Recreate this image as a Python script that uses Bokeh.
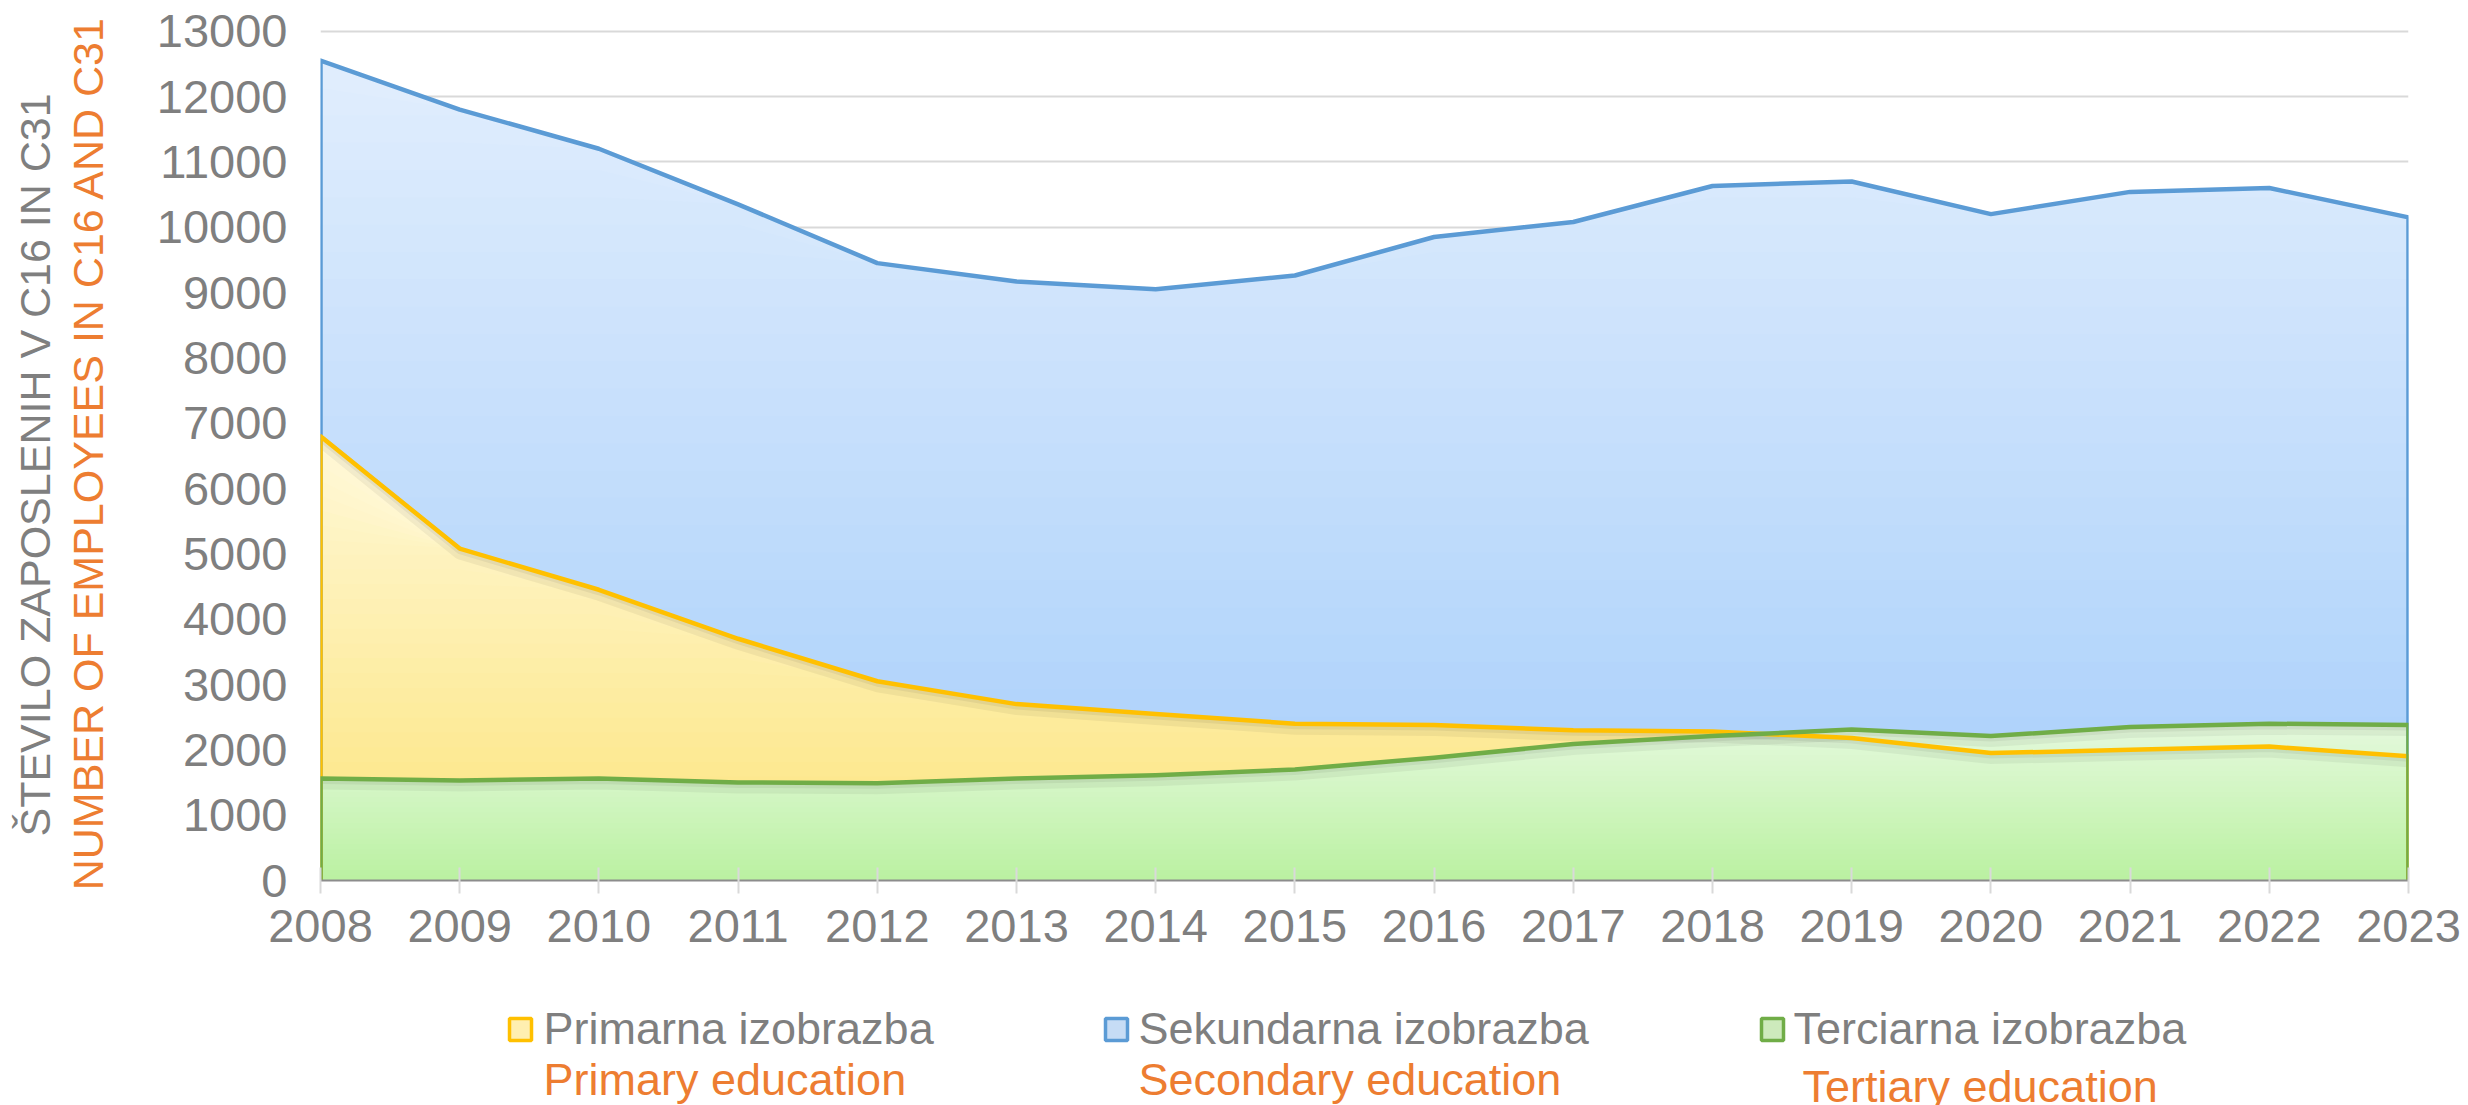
import numpy as np
from bokeh.plotting import figure
from bokeh.layouts import column
from bokeh.models import Range1d, FixedTicker, Label, LinearAxis
from bokeh.embed import file_html
from bokeh.resources import INLINE

# ---------------- data ----------------
years = [2008, 2009, 2010, 2011, 2012, 2013, 2014, 2015,
         2016, 2017, 2018, 2019, 2020, 2021, 2022, 2023]
primary = [6800, 5080, 4450, 3700, 3050, 2700, 2550, 2400,
           2380, 2300, 2280, 2180, 1950, 2000, 2050, 1900]
secondary = [12550, 11800, 11200, 10350, 9450, 9170, 9050, 9260,
             9850, 10080, 10630, 10700, 10200, 10540, 10600, 10150]
tertiary = [1560, 1530, 1560, 1500, 1490, 1560, 1610, 1700,
            1880, 2090, 2210, 2310, 2210, 2350, 2400, 2380]

y_ticks = list(range(0, 13001, 1000))
y_title_sl = "ŠTEVILO ZAPOSLENIH V C16 IN C31"
y_title_en = "NUMBER OF EMPLOYEES IN C16 AND C31"
legend_sl = ["Primarna izobrazba", "Sekundarna izobrazba", "Terciarna izobrazba"]
legend_en = ["Primary education", "Secondary education", "Tertiary education"]

# ---------------- style ----------------
FONT = "Liberation Sans"
GRAY = "#7f7f7f"
ORANGE = "#ed7d31"
C_BLUE, C_YEL, C_GRN = "#5b9bd5", "#ffc000", "#70ad47"

TOTAL_W, TOTAL_H = 2468, 1105
MAIN_H = 990
LEG_H = TOTAL_H - MAIN_H
FRAME_L, FRAME_T = 320, 25
FRAME_W, FRAME_H = 2088, 855
Y_END = 13087

# ---------------- main chart ----------------
p = figure(width=TOTAL_W, height=MAIN_H, frame_width=FRAME_W, frame_height=FRAME_H,
           min_border_left=FRAME_L, min_border_top=FRAME_T,
           min_border_right=TOTAL_W - FRAME_L - FRAME_W,
           min_border_bottom=MAIN_H - FRAME_T - FRAME_H,
           x_range=Range1d(years[0], years[-1]), y_range=Range1d(0, Y_END),
           output_backend="svg", toolbar_location=None)
p.outline_line_color = None
p.background_fill_color = "white"
p.border_fill_color = "white"

UY = Y_END / FRAME_H
# extra ranges to draw soft shadows a few pixels under the lines
for name, off in (("sh1", 2), ("sh2", 5)):
    s = off * UY
    p.extra_y_ranges[name] = Range1d(s, Y_END + s)


def hex2rgb(h):
    h = h.lstrip("#")
    return tuple(int(h[i:i + 2], 16) for i in (0, 2, 4))


def mix(c1, c2, t):
    a, b = hex2rgb(c1), hex2rgb(c2)
    return "#%02x%02x%02x" % tuple(int(round(a[i] + (b[i] - a[i]) * t)) for i in range(3))


def gradient_area(xs, ys, top, bottom, n=30):
    ys = np.asarray(ys, dtype=float)
    vmax = ys.max()
    for k in range(n):
        level = vmax * (1 - k / n)
        col = mix(top, bottom, k / (n - 1))
        p.varea(x=xs, y1=0, y2=np.minimum(ys, level), fill_color=col)


gradient_area(years, secondary, "#e0edfd", "#a6cefa")
gradient_area(years, primary, "#fff8d6", "#fce47c")
gradient_area(years, tertiary, "#e4f9dc", "#bbf1a2")

# soft shadows under the yellow and green lines
for series in (primary, tertiary):
    p.line(years, series, y_range_name="sh2", line_color="#000000",
           line_alpha=0.05, line_width=12)
    p.line(years, series, y_range_name="sh1", line_color="#000000",
           line_alpha=0.055, line_width=7)

# outlines (including the vertical edges at the ends)
edge_x = [years[0]] + years + [years[-1]]
for series, col in ((secondary, C_BLUE), (primary, C_YEL), (tertiary, C_GRN)):
    p.line(edge_x, [0] + list(series) + [0], line_color=col, line_width=4.5,
           line_join="round")

p.xgrid.grid_line_color = None
p.ygrid.grid_line_color = "#d9d9d9"
p.ygrid.grid_line_width = 2
p.ygrid.ticker = FixedTicker(ticks=y_ticks)

yax = p.yaxis[0]
yax.ticker = FixedTicker(ticks=y_ticks)
yax.axis_line_color = None
yax.major_tick_line_color = None
yax.major_tick_out = 0
yax.major_tick_in = 0
yax.minor_tick_line_color = None
yax.major_label_standoff = 33
yax.major_label_text_font = FONT
yax.major_label_text_font_size = "47px"
yax.major_label_text_color = GRAY
yax.axis_label = y_title_en
yax.axis_label_text_font = FONT
yax.axis_label_text_font_size = "43px"
yax.axis_label_text_font_style = "normal"
yax.axis_label_text_color = ORANGE
yax.axis_label_standoff = 42

# outer (second) title line as an extra tick-less axis
yax2 = LinearAxis(ticker=FixedTicker(ticks=[]), axis_line_color=None,
                  major_tick_line_color=None, minor_tick_line_color=None,
                  major_tick_out=0, major_tick_in=0, minor_tick_out=0,
                  axis_label=y_title_sl + "\u00a0\u00a0", axis_label_text_font=FONT,
                  axis_label_text_font_size="43px", axis_label_text_font_style="normal",
                  axis_label_text_color=GRAY, axis_label_standoff=2)
p.add_layout(yax2, "left")

xax = p.xaxis[0]
xax.ticker = FixedTicker(ticks=years)
xax.axis_line_color = "#8c8c8c"
xax.axis_line_width = 2
xax.major_tick_line_color = "#d9d9d9"
xax.major_tick_line_width = 2
xax.major_tick_in = 13
xax.major_tick_out = 13
xax.minor_tick_line_color = None
xax.major_label_standoff = 16
xax.major_label_text_font = FONT
xax.major_label_text_font_size = "47px"
xax.major_label_text_color = GRAY

# ---------------- legend (own canvas; x = page pixels, y upwards from its bottom) ----------------
lg = figure(width=TOTAL_W, height=LEG_H, frame_width=FRAME_W, frame_height=LEG_H,
            x_range=Range1d(FRAME_L, FRAME_L + FRAME_W), y_range=Range1d(0, LEG_H),
            min_border_left=FRAME_L, min_border_right=TOTAL_W - FRAME_L - FRAME_W,
            min_border_top=0, min_border_bottom=0,
            x_axis_location=None, y_axis_location=None,
            output_backend="svg", toolbar_location=None)
lg.outline_line_color = None
lg.grid.visible = False
lg.background_fill_color = "white"
lg.border_fill_color = "white"

leg_text_x = [543, 1138, 1793]
leg_en_x = [543, 1138, 1802]
leg_sl_y = 77
leg_en_y = [26, 26, 19]
leg_marker_x = [520, 1116, 1772]
leg_marker_y = 76
marker_fill = [("#ffefb0", C_YEL), ("#c6dcf5", C_BLUE), ("#cdeabc", C_GRN)]
for i in range(3):
    fc, lc = marker_fill[i]
    lg.rect(x=leg_marker_x[i], y=leg_marker_y, width=22, height=22, fill_color=fc,
            line_color=lc, line_width=3.5)
    lg.add_layout(Label(x=leg_text_x[i], y=leg_sl_y,
                        text=legend_sl[i], text_font=FONT, text_font_size="45px",
                        text_color=GRAY, text_align="left", text_baseline="alphabetic"))
    lg.add_layout(Label(x=leg_en_x[i], y=leg_en_y[i],
                        text=legend_en[i], text_font=FONT, text_font_size="45px",
                        text_color=ORANGE, text_align="left", text_baseline="alphabetic"))

layout = column(p, lg, spacing=0)
open("out.html", "w").write(file_html(layout, INLINE))
